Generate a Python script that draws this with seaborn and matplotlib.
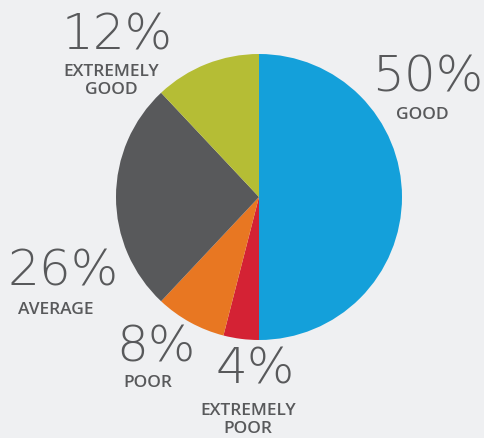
import matplotlib
matplotlib.use("Agg")
import matplotlib.pyplot as plt
import seaborn as sns

categories = ["GOOD", "EXTREMELY\nPOOR", "POOR", "AVERAGE", "EXTREMELY\nGOOD"]
values = [50, 4, 8, 26, 12]
colors = ["#14a0da", "#d42234", "#e87722", "#58595b", "#b5bd35"]

sns.set_theme(style="white")
plt.rcParams["font.family"] = ["DejaVu Sans"]

BG = "#eff0f2"
TXT = "#58595b"
W, H = 485, 438
fig = plt.figure(figsize=(W / 100, H / 100), dpi=100, facecolor=BG)
ax = fig.add_axes([0, 0, 1, 1])
ax.set_facecolor(BG)

ax.pie(values, colors=sns.color_palette(colors), startangle=90, counterclock=False,
       center=(259, H - 197), radius=143, wedgeprops=dict(linewidth=0))
ax.set_xlim(0, W)
ax.set_ylim(0, H)
ax.set_aspect("equal")
ax.axis("off")

# label positions (pixel coords, y from top): number centre, caption centre
pos = {
    "GOOD": ((428, 77), (422, 115)),
    "EXTREMELY\nPOOR": ((255, 370), (248, 420)),
    "POOR": ((156, 348), (148, 383)),
    "AVERAGE": ((63, 271), (56, 310)),
    "EXTREMELY\nGOOD": ((117, 35), (111, 81)),
}
for cat, v in zip(categories, values):
    (nx, ny), (cx, cy) = pos[cat]
    ax.text(nx, H - ny, f"{v}%", ha="center", va="center", fontsize=36,
            color=TXT, fontweight="light")
    ax.text(cx, H - cy, cat, ha="center", va="center", fontsize=12.5,
            color=TXT, fontweight="semibold", linespacing=1.15,
            family=["Open Sans", "DejaVu Sans"])

fig.savefig("out.png", dpi=100, facecolor=BG)
